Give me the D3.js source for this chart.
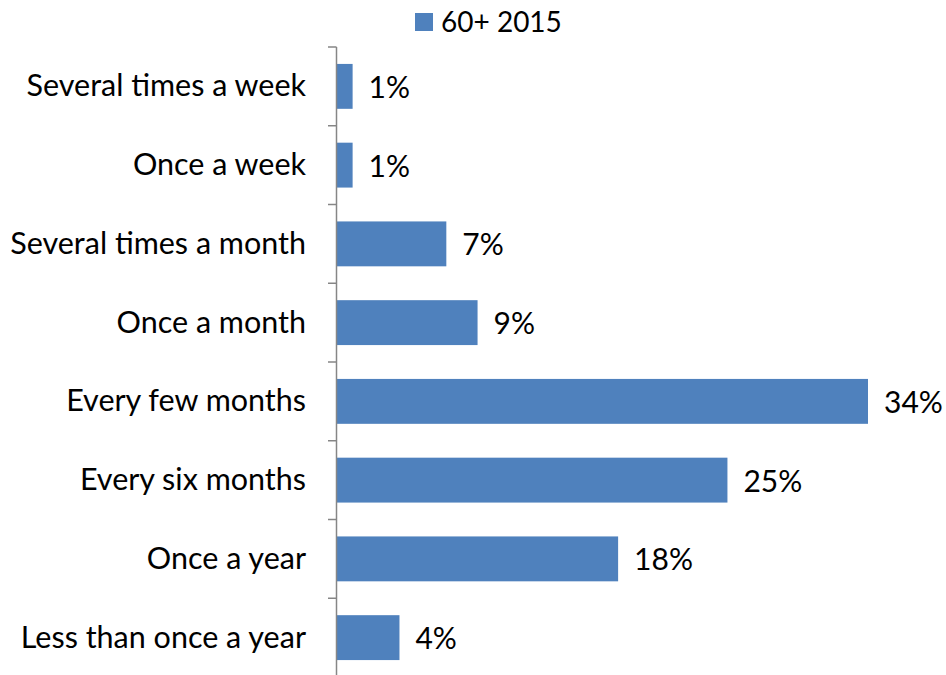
<!DOCTYPE html>
<html><head><meta charset="utf-8">
<script src="https://cdn.jsdelivr.net/npm/d3@7/dist/d3.min.js"></script>
<style>body{margin:0;background:#fff;} text{font-family:Lato, "Open Sans", sans-serif;fill:#000;}</style>
</head><body><svg id="c" width="946" height="675"></svg>
<script>
const categories = ["Several times a week","Once a week","Several times a month","Once a month","Every few months","Every six months","Once a year","Less than once a year"];
const values = [1,1,7,9,34,25,18,4];
const valueLabels = ["1%","1%","7%","9%","34%","25%","18%","4%"];
const seriesName = "60+ 2015";

const svg = d3.select("#c");
const x0 = 337, plotTop = 47, plotBottom = 677;
const x = d3.scaleLinear().domain([0,34]).range([x0, 868]);
const y = d3.scaleBand().domain(categories).range([plotTop,plotBottom]).paddingInner(0.43).paddingOuter(0.215);
const color = "#4F81BD";

// bars
svg.selectAll("rect.bar").data(values).join("rect")
  .attr("class","bar")
  .attr("x", x(0)).attr("y",(d,i)=>y(categories[i]))
  .attr("width", d=>x(d)-x(0)).attr("height", y.bandwidth())
  .attr("fill", color);

// axis
const step = (plotBottom-plotTop)/categories.length;
const g = svg.append("g");
g.append("line").attr("x1",x0-0.5).attr("x2",x0-0.5).attr("y1",plotTop).attr("y2",plotBottom).attr("stroke","#868686").attr("stroke-width",1.5);
d3.range(categories.length+1).forEach(i=>{
  const yy = plotTop + i*step;
  g.append("line").attr("x1",x0-9).attr("x2",x0-0.5).attr("y1",yy).attr("y2",yy).attr("stroke","#868686").attr("stroke-width",1.5);
});
svg.selectAll("text.cat").data(categories).join("text")
  .attr("class","cat")
  .attr("x",306).attr("y",d=>y(d)+y.bandwidth()/2)
  .attr("dy","0.33em").attr("text-anchor","end")
  .attr("font-size",30.5).text(d=>d);

// value labels
svg.selectAll("text.val").data(values).join("text")
  .attr("class","val")
  .attr("x",d=>x(d)+16).attr("y",(d,i)=>y(categories[i])+y.bandwidth()/2)
  .attr("dy","0.38em").attr("font-size",30)
  .text((d,i)=>valueLabels[i]);

// legend
svg.append("rect").attr("x",415).attr("y",13).attr("width",18).attr("height",18).attr("fill",color);
svg.append("text").attr("x",441).attr("y",32).attr("font-size",28).text(seriesName);
</script></body></html>
